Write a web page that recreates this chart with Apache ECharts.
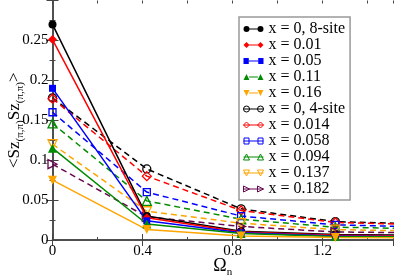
<!DOCTYPE html>
<html><head><meta charset="utf-8">
<script src="https://cdn.jsdelivr.net/npm/echarts@6/dist/echarts.min.js"></script>
<style>html,body{margin:0;padding:0;background:#fff}#c{width:395px;height:276px}</style>
</head><body><div id="c"></div>
<script>
// Matsubara frequencies (x values)
const omegas = [0, 0.419, 0.838, 1.257, 1.676];
// series names (legend order)
const names = ['x = 0, 8-site','x = 0.01','x = 0.05','x = 0.11','x = 0.16',
               'x = 0, 4-site','x = 0.014','x = 0.058','x = 0.094','x = 0.137','x = 0.182'];
// solid (filled markers)
const s8site = [0.270, 0.030, 0.011, 0.007, 0.006];
const s001   = [0.251, 0.028, 0.010, 0.006, 0.005];
const s005   = [0.190, 0.024, 0.009, 0.005, 0.004];
const s011   = [0.115, 0.020, 0.008, 0.0045, 0.004];
const s016   = [0.075, 0.013, 0.005, 0.003, 0.0025];
// dashed (hollow markers)
const s4site = [0.178, 0.089, 0.039, 0.023, 0.020];
const s0014  = [0.177, 0.080, 0.037, 0.022, 0.019];
const s0058  = [0.160, 0.060, 0.030, 0.019, 0.016];
const s0094  = [0.146, 0.049, 0.026, 0.016, 0.014];
const s0137  = [0.120, 0.036, 0.021, 0.013, 0.011];
const s0182  = [0.095, 0.029, 0.017, 0.010, 0.009];
const xTicks = [0, 0.4, 0.8, 1.2];
const yTicks = [0, 0.05, 0.1, 0.15, 0.2, 0.25];

const values = [s8site,s001,s005,s011,s016,s4site,s0014,s0058,s0094,s0137,s0182];
const colors = ['#000000','#ff0000','#0000ff','#008b00','#ffa500',
                '#000000','#ff0000','#0000ff','#008b00','#ffa500','#67074f'];
const symbols = ['circle','diamond','rect','triangle','triangle',
                 'circle','diamond','rect','triangle','triangle','triangle'];
const rot = [0,0,0,0,180, 0,0,0,0,180,-90];
const SERIF = 'Liberation Serif, Times New Roman, serif';
const AX = '#444';

// legend icon shapes (two markers joined by a line), 20 x 6 box
const mk = {
  circle: o => `M${o},3 A3,3 0 1,1 ${o+6},3 A3,3 0 1,1 ${o},3 Z `,
  diamond: o => `M${o+3},0 L${o+6},3 L${o+3},6 L${o},3 Z `,
  rect: o => `M${o+0.5},0 L${o+5.5},0 L${o+5.5},6 L${o+0.5},6 Z `,
  up: o => `M${o+3},0 L${o+6},6 L${o},6 Z `,
  down: o => `M${o},0 L${o+6},0 L${o+3},6 Z `,
  right: o => `M${o},0 L${o+6},3 L${o},6 Z `
};
const shapeKey = ['circle','diamond','rect','up','down','circle','diamond','rect','up','down','right'];
function iconPath(i) {
  const f = mk[shapeKey[i]];
  const hollow = i >= 5;
  const link = hollow ? 'M0,3 L20,3 ' : 'M5.6,2.4 L14.4,2.4 L14.4,3.6 L5.6,3.6 Z ';
  return 'path://' + f(0) + f(14) + link;
}

const series = values.map((v, i) => {
  const hollow = i >= 5;
  return {
    name: names[i], type: 'line', xAxisIndex: 0, yAxisIndex: 0,
    data: omegas.map((x, k) => [x, v[k]]),
    symbol: symbols[i], symbolRotate: rot[i],
    symbolSize: symbols[i] === 'rect' ? 7 : (symbols[i]==='circle'?8:9),
    showAllSymbol: true,
    lineStyle: { color: colors[i], width: 1.5, type: hollow ? [6, 4] : 'solid' },
    itemStyle: hollow ? { color: 'rgba(255,255,255,0)', borderColor: colors[i], borderWidth: 1.3 }
                      : { color: colors[i], borderWidth: 0 },
    emphasis: { disabled: true },
    animation: false, z: hollow ? 2 : 3
  };
});

const gridRect = { left: 52.5, right: 2, top: 0.5, bottom: 36, outerBoundsMode: 'none', containLabel: false };
const chart = echarts.init(document.getElementById('c'), null, { renderer: 'canvas' });
const fmt = v => {
  const r = Math.round(v * 1000) / 1000;
  return r === 0 ? '0' : String(r);
};
chart.setOption({
  animation: false,
  backgroundColor: '#fff',
  grid: [Object.assign({}, gridRect), Object.assign({}, gridRect)],
  xAxis: [
    { gridIndex: 0, type: 'value', position: 'bottom', min: 0, max: 1.513, interval: 0.4,
      axisLine: { lineStyle: { color: AX, width: 1.5 } },
      axisTick: { inside: true, length: 6, lineStyle: { color: AX } },
      axisLabel: { showMaxLabel: false, color: '#000', fontFamily: SERIF, fontSize: 15, margin: 4,
        formatter: v => xTicks.some(t => Math.abs(t - v) < 1e-6) ? fmt(v) : '' },
      splitLine: { show: false },
      name: '{a|Ω}{b|n}', nameLocation: 'middle', nameGap: 15, nameMoveOverlap: false,
      nameTextStyle: { rich: { a: { fontFamily: SERIF, fontSize: 18, color: '#000' },
                               b: { fontFamily: SERIF, fontSize: 11, color: '#000', padding: [12, 0, 0, 0] } } } },
    { gridIndex: 0, type: 'value', position: 'top', min: 0, max: 1.513, interval: 0.4,
      axisLine: { lineStyle: { color: AX, width: 1.5 } },
      axisTick: { inside: true, length: 6, lineStyle: { color: AX } },
      axisLabel: { show: false }, splitLine: { show: false } },
    { gridIndex: 1, type: 'value', position: 'bottom', min: 0, max: 1.513, interval: 0.2,
      axisLine: { show: false },
      axisTick: { inside: true, length: 3, lineStyle: { color: AX } },
      axisLabel: { show: false }, splitLine: { show: false } },
    { gridIndex: 1, type: 'value', position: 'top', min: 0, max: 1.513, interval: 0.2,
      axisLine: { show: false },
      axisTick: { inside: true, length: 3, lineStyle: { color: AX } },
      axisLabel: { show: false }, splitLine: { show: false } }
  ],
  yAxis: [
    { gridIndex: 0, type: 'value', position: 'left', min: 0, max: 0.3, interval: 0.05,
      axisLine: { show: true, lineStyle: { color: AX, width: 1.5 } },
      axisTick: { show: true, inside: true, length: 6, lineStyle: { color: AX } },
      minorTick: { show: true, splitNumber: 2, length: 3, lineStyle: { color: AX } },
      axisLabel: { showMaxLabel: false, color: '#000', fontFamily: SERIF, fontSize: 15, margin: 4,
        formatter: v => yTicks.some(t => Math.abs(t - v) < 1e-6) ? fmt(v) : '' },
      splitLine: { show: false },
      name: '{a|<Sz}{b|(π,π)}{a|Sz}{b|(π,π)}{a|>}', nameLocation: 'middle', nameGap: 27, nameMoveOverlap: false,
      nameTextStyle: { rich: { a: { fontFamily: SERIF, fontSize: 17, color: '#000' },
                               b: { fontFamily: SERIF, fontSize: 11, color: '#000', padding: [10, 0, 0, 0] } } } },
    { gridIndex: 0, type: 'value', position: 'right', min: 0, max: 0.3, interval: 0.05,
      axisLine: { show: true, lineStyle: { color: AX, width: 1.5 } },
      axisTick: { show: true, inside: true, length: 6, lineStyle: { color: AX } },
      minorTick: { show: true, splitNumber: 2, length: 3, lineStyle: { color: AX } },
      axisLabel: { show: false }, splitLine: { show: false } },
    { gridIndex: 1, type: 'value', min: 0, max: 0.3, show: false }
  ],
  legend: {
    data: names.map((n, i) => ({ name: n, icon: iconPath(i),
      itemStyle: i >= 5 ? { borderWidth: 1 } : { borderWidth: 0 } })),
    orient: 'vertical', left: 239, top: 17,
    backgroundColor: '#fff', borderColor: '#999', borderWidth: 1.5, borderRadius: 0,
    padding: [4, 5, 3, 4], itemGap: 0, itemWidth: 20, itemHeight: 6,
    symbolKeepAspect: false, selectedMode: false,
    textStyle: { fontFamily: SERIF, fontSize: 16, color: '#000', lineHeight: 15.3 }
  },
  series: series
});
</script></body></html>
